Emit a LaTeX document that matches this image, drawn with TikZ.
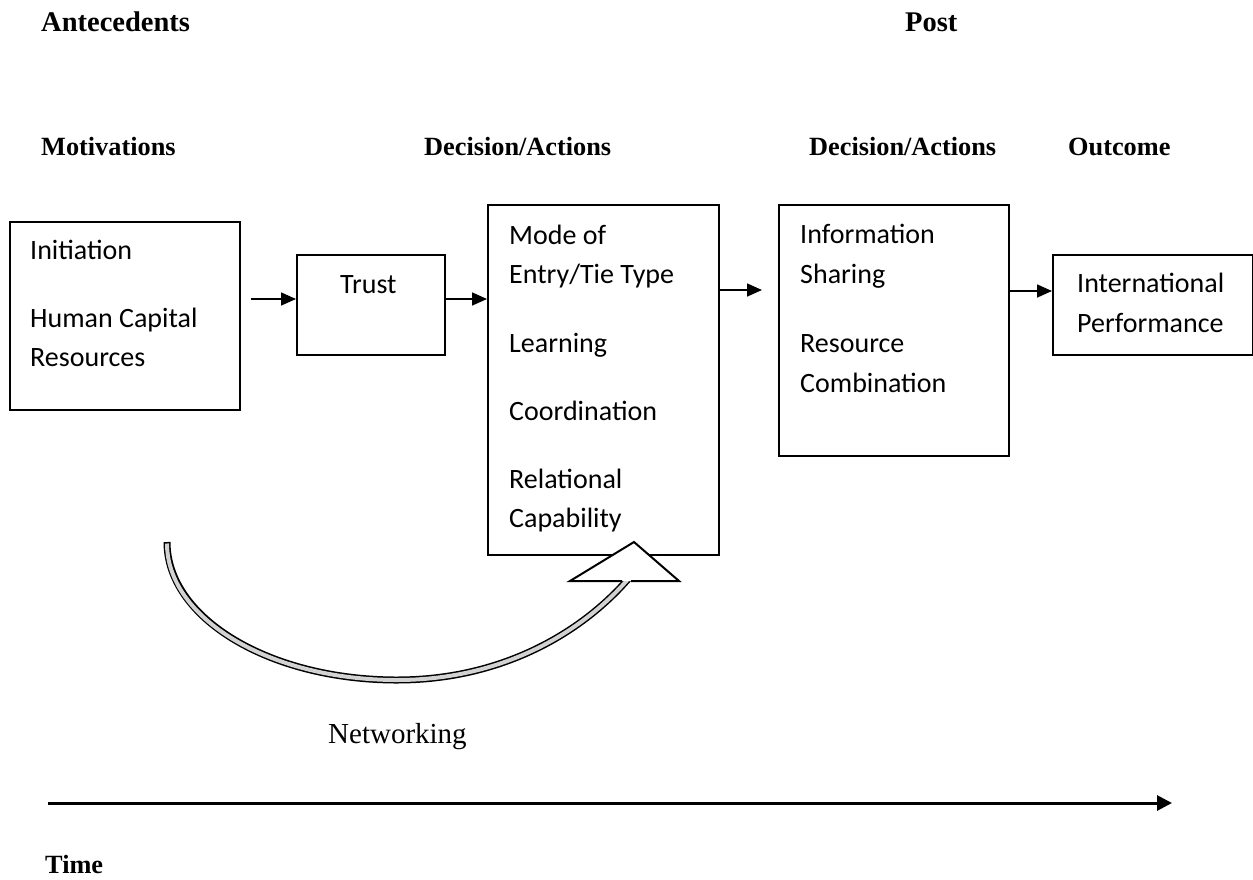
\documentclass[tikz,border=0pt]{standalone}
\usepackage{fontspec}
\setmainfont{Liberation Serif}
\newfontfamily\calib{Carlito}
\usetikzlibrary{arrows.meta}
\begin{document}
\begin{tikzpicture}[x=1pt,y=-1pt,
  box/.style={draw, line width=2pt, inner sep=0, anchor=north west},
  body/.style={inner sep=0, anchor=base west, font=\calib\fontsize{28}{39}\selectfont},
  hdbig/.style={inner sep=0, anchor=base west, font=\bfseries\fontsize{28.5}{34}\selectfont},
  hdsub/.style={inner sep=0, anchor=base west, font=\bfseries\fontsize{26.3}{32}\selectfont},
  plain/.style={inner sep=0, anchor=base west, font=\fontsize{29}{34}\selectfont},
  arr/.style={line width=1.6pt, -{Triangle[length=15pt,width=13pt]}}]
\useasboundingbox (0,0) rectangle (1253,879);

% headers
\node[hdbig] (hant) at (41,31) {Antecedents};
\node[hdbig] (hpost) at (905,31) {Post};
\node[hdsub] (hmot) at (41,155) {Motivations};
\node[hdsub] (hda1) at (424,155) {Decision/Actions};
\node[hdsub] (hda2) at (809,155) {Decision/Actions};
\node[hdsub] (hout) at (1068,155) {Outcome};

% boxes
\node[box, minimum width=230pt, minimum height=188pt] (b1) at (9,221) {};
\node[box, minimum width=148pt, minimum height=100pt] (trust) at (296,254) {};
\node[box, minimum width=231pt, minimum height=350pt] (b3) at (487,204) {};
\node[box, minimum width=230pt, minimum height=251pt] (b4) at (778,204) {};
\node[box, minimum width=200pt, minimum height=100pt] (b5) at (1052,254) {};

% box texts
\node[body] (t11) at (30,259) {Initiation};
\node[body] (t12) at (30,327) {Human Capital};
\node[body] (t13) at (30,366) {Resources};
\node[body] (t2) at (340,293) {Trust};
\node[body] (t31) at (509,244) {Mode of};
\node[body] (t32) at (509,283) {Entry/Tie Type};
\node[body] (t33) at (509,352) {Learning};
\node[body] (t34) at (509,420) {Coordination};
\node[body] (t35) at (509,488) {Relational};
\node[body] (t36) at (509,527) {Capability};
\node[body] (t41) at (800,243) {Information};
\node[body] (t42) at (800,283) {Sharing};
\node[body] (t43) at (800,352) {Resource};
\node[body] (t44) at (800,392) {Combination};
\node[body] (t51) at (1077,292) {International};
\node[body] (t52) at (1077,332) {Performance};

% arrows
\coordinate (a1s) at (251,299);
\coordinate (ya) at (0,290);
\coordinate (yb) at (0,291);
\coordinate (a3e) at (762,290);
\draw[arr] (a1s) -- (a1s -| trust.west);
\draw[arr] (trust.east |- a1s) -- (b3.west |- a1s);
\draw[arr] (b3.east |- ya) -- (a3e);
\draw[arr] (b4.east |- yb) -- (b5.west |- yb);

% curved networking arrow
\coordinate (ct) at (167,542);
\coordinate (cb) at (397,680);
\coordinate (ce) at (626.5,581);
\coordinate (hA) at (634,542);
\coordinate (hL) at (570,581);
\coordinate (hR) at (679,581);
\draw[line width=7pt, shorten >=-6pt] (ct) .. controls (167,618) and (269,680) .. (cb) .. controls (505,680) and (585,630) .. (ce);
\draw[line width=4pt, gray!35, shorten <=1.5pt, shorten >=-6pt] (ct) .. controls (167,618) and (269,680) .. (cb) .. controls (505,680) and (585,630) .. (ce);
\fill[white] (hA) -- (hR) -- (hL) -- cycle;
\draw[line width=2pt, line join=miter] (622,581) -- (hL) -- (hA) -- (hR) -- (631,581);

\node[plain] (net) at (328,743) {Networking};

% time axis
\coordinate (ts) at (48,803);
\coordinate (te) at (1172,803);
\draw[line width=3pt, -{Triangle[length=15pt,width=15pt]}] (ts) -- (te);
\node[hdsub] (time) at (45,873) {Time};
\end{tikzpicture}
\end{document}
